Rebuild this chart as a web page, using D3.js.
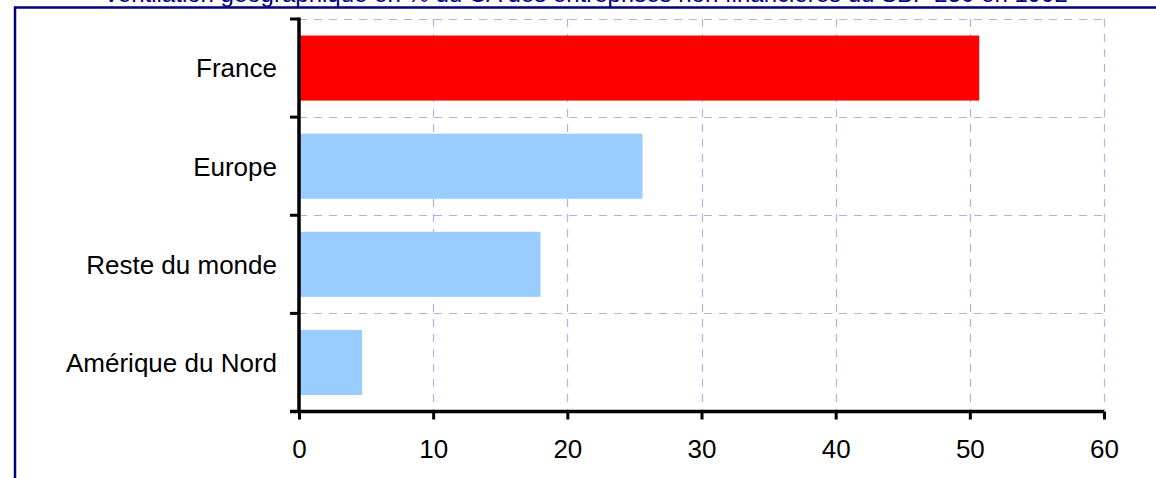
<!DOCTYPE html>
<html>
<head>
<meta charset="utf-8">
<script src="https://cdn.jsdelivr.net/npm/d3@7"></script>
<style>
  html, body { margin: 0; padding: 0; background: #fff; }
  svg { display: block; font-family: "Liberation Sans", Arial, sans-serif; }
</style>
</head>
<body>
<svg id="chart" width="1156" height="478"></svg>
<script>
const title = "Ventilation géographique en % du CA des entreprises non financières du SBF 250 en 1992";
const categories = ["France", "Europe", "Reste du monde", "Amérique du Nord"];
const values = [50.7, 25.6, 18.0, 4.7];
const barColors = ["#ff0000", "#99ccff", "#99ccff", "#99ccff"];
const xTicks = [0, 10, 20, 30, 40, 50, 60];

(function () {
const svg = d3.select("#chart");
const pLeft = 299, pRight = 1104, pTop = 19, pBottom = 411.5;

const x = d3.scaleLinear().domain([0, 60]).range([pLeft, pRight]);
const y = d3.scaleBand().domain(categories).range([pTop, pBottom])
  .paddingInner(0.337).paddingOuter(0.1685);

// outer frame
svg.append("rect").attr("x", 15).attr("y", 7.5).attr("width", 1160).attr("height", 480)
  .attr("fill", "none").attr("stroke", "#000080").attr("stroke-width", 2.5);

// title (mostly clipped at the top)
const t = svg.append("text").attr("x", 585.5).attr("y", 2).attr("text-anchor", "middle")
  .attr("fill", "#000080").attr("font-size", 24).text(title);
const tw = t.node().getComputedTextLength();
t.attr("font-size", 24 * 965 / tw);

// grid
const grid = svg.append("g").attr("stroke", "#b0b0f0").attr("stroke-width", 1.2)
  .attr("stroke-dasharray", "8,7").attr("fill", "none");
const bounds = categories.map(c => y(c) - y.step() * y.paddingInner() / 2);
bounds.forEach(b => grid.append("line").attr("x1", pLeft).attr("x2", pRight)
  .attr("y1", Math.round(b) + 0.5).attr("y2", Math.round(b) + 0.5));
xTicks.filter(v => v > 0).forEach(v => grid.append("line")
  .attr("x1", Math.round(x(v)) + 0.5).attr("x2", Math.round(x(v)) + 0.5)
  .attr("y1", pTop).attr("y2", pBottom));

// bars
svg.append("g").selectAll("rect").data(categories).join("rect")
  .attr("x", x(0)).attr("y", d => y(d))
  .attr("width", (d, i) => x(values[i]) - x(0))
  .attr("height", y.bandwidth())
  .attr("fill", (d, i) => barColors[i]);

// x axis
const xAxis = svg.append("g").attr("transform", `translate(0,${pBottom})`)
  .call(d3.axisBottom(x).tickValues(xTicks).tickSize(8).tickPadding(20).tickSizeOuter(0));
xAxis.select(".domain").attr("d", `M${pLeft - 9},0H${pRight}`).attr("stroke", "#000").attr("stroke-width", 3.5);
xAxis.selectAll(".tick line").attr("stroke", "#000").attr("stroke-width", 3);
xAxis.selectAll(".tick text").attr("font-size", 26).attr("fill", "#000")
  .attr("font-family", '"Liberation Sans", Arial, sans-serif');

// y axis
const yAxisG = svg.append("g");
yAxisG.append("line").attr("x1", pLeft).attr("x2", pLeft).attr("y1", pTop - 1.5).attr("y2", pBottom)
  .attr("stroke", "#000").attr("stroke-width", 3.5);
bounds.forEach(b => yAxisG.append("line").attr("x1", pLeft - 9).attr("x2", pLeft)
  .attr("y1", b).attr("y2", b).attr("stroke", "#000").attr("stroke-width", 3));

// category labels
svg.append("g").selectAll("text").data(categories).join("text")
  .attr("x", 277).attr("y", d => y(d) + y.bandwidth() / 2)
  .attr("dy", "0.36em").attr("text-anchor", "end")
  .attr("font-size", 26).attr("fill", "#000").text(d => d);
})();
</script>
</body>
</html>
